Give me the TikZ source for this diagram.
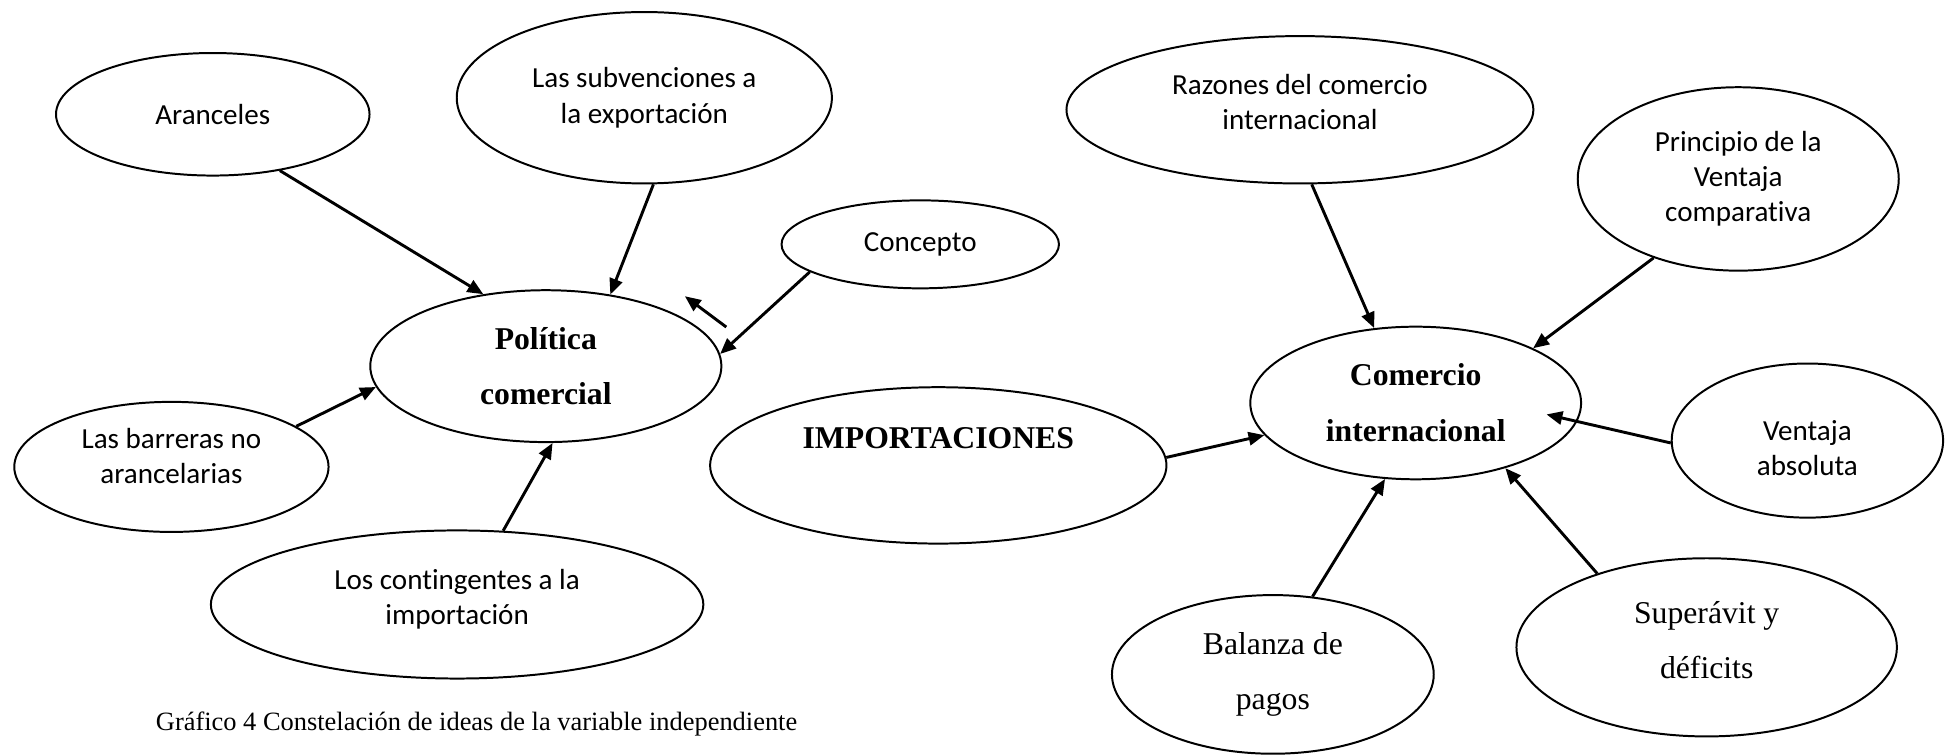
\documentclass[tikz,border=0pt]{standalone}
\usepackage{fontspec}
\setmainfont{Liberation Serif}
\newfontfamily\carlitofont[Ligatures=NoCommon]{Carlito}
\usetikzlibrary{shapes,arrows.meta,calc}
\tikzstyle{ideabubble}=[
    draw, ellipse,
    line width=0.75pt,
    inner sep=0pt,
    align=center,
    font=\carlitofont\fontsize{11}{13.25}\selectfont,
]
\tikzstyle{mainbubble}=[
    ideabubble,
    font=\bfseries\fontsize{12}{21.1}\selectfont,
]
\tikzstyle{serifbubble}=[
    ideabubble,
    font=\fontsize{12}{20.8}\selectfont,
]
\tikzstyle{ideaarrow}=[
    ->, >={Triangle[length=6pt,width=5pt]},
    line width=1.1pt,
]

\begin{document}
\begin{tikzpicture}
    \useasboundingbox (0,0) rectangle (25.99,-10.04);
    % politica comercial
    \node (aranceles) at (2.83, -1.52) [ideabubble, minimum width=4.17cm, minimum height=1.63cm] {Aranceles};
    \node (subvenciones) at (8.57, -1.30) [ideabubble, minimum width=4.99cm, minimum height=2.28cm] {Las subvenciones a\\la exportación};
    \node (concepto) at (12.24, -3.25) [ideabubble, minimum width=3.69cm, minimum height=1.17cm] {Concepto};
    \node (politica) at (7.26, -4.87) [mainbubble, minimum width=4.67cm, minimum height=2.02cm] {Política\\comercial};
    \node (barreras) at (2.28, -6.21) [ideabubble, minimum width=4.18cm, minimum height=1.73cm, text depth=8.6pt] {Las barreras no\\arancelarias};
    \node (contingentes) at (6.08, -8.04) [ideabubble, minimum width=6.55cm, minimum height=1.97cm, text depth=5.8pt] {Los contingentes a la\\importación};
    \node (importaciones) at (12.48, -6.19) [mainbubble, minimum width=6.07cm, minimum height=2.08cm, text depth=20.7pt] {IMPORTACIONES};
    % comercio internacional
    \node (razones) at (17.29, -1.46) [ideabubble, minimum width=6.21cm, minimum height=1.96cm, text depth=5.7pt] {Razones del comercio\\internacional};
    \node (principio) at (23.12, -2.38) [ideabubble, minimum width=4.27cm, minimum height=2.44cm] {Principio de la\\Ventaja\\comparativa};
    \node (comercio) at (18.83, -5.36) [mainbubble, minimum width=4.40cm, minimum height=2.03cm] {Comercio\\internacional};
    \node (ventaja) at (24.04, -5.86) [ideabubble, minimum width=3.61cm, minimum height=2.05cm, text height=26.2pt] {Ventaja\\absoluta};
    \node (balanza) at (16.93, -8.97) [serifbubble, minimum width=4.28cm, minimum height=2.11cm] {Balanza de\\pagos};
    \node (superavit) at (22.70, -8.61) [serifbubble, minimum width=5.06cm, minimum height=2.37cm, text depth=5.4pt] {Superávit y\\déficits};
    \node (caption) at (1.95, -9.71) [anchor=base west, font=\fontsize{10}{12}\selectfont] {Gráfico 4 Constelación de ideas de la variable independiente};

    \draw[ideaarrow] (aranceles.-40) -- (politica.131);
    \draw[ideaarrow] (subvenciones.-84) -- (politica.48);
    \draw[ideaarrow] (concepto.194) -- (politica.4);
    \draw[ideaarrow] (barreras.18) -- (politica.187);
    \draw[ideaarrow] (contingentes.58) -- (politica.-85);
    \coordinate (loosetail) at (9.66, -4.35);
    \coordinate (loosetip) at (9.11, -3.94);
    \draw[ideaarrow] (loosetail) -- (loosetip);

    \draw[ideaarrow] (importaciones.2) -- (comercio.192);
    \draw[ideaarrow] (razones.-81) -- (comercio.119);
    \draw[ideaarrow] (principio.223) -- (comercio.25);
    \draw[ideaarrow] (ventaja.181) -- ($(comercio)!0.8!(comercio.-5)$);
    \draw[ideaarrow] (balanza.63) -- (comercio.-112);
    \draw[ideaarrow] (superavit.146) -- (comercio.-36);
\end{tikzpicture}
\end{document}
